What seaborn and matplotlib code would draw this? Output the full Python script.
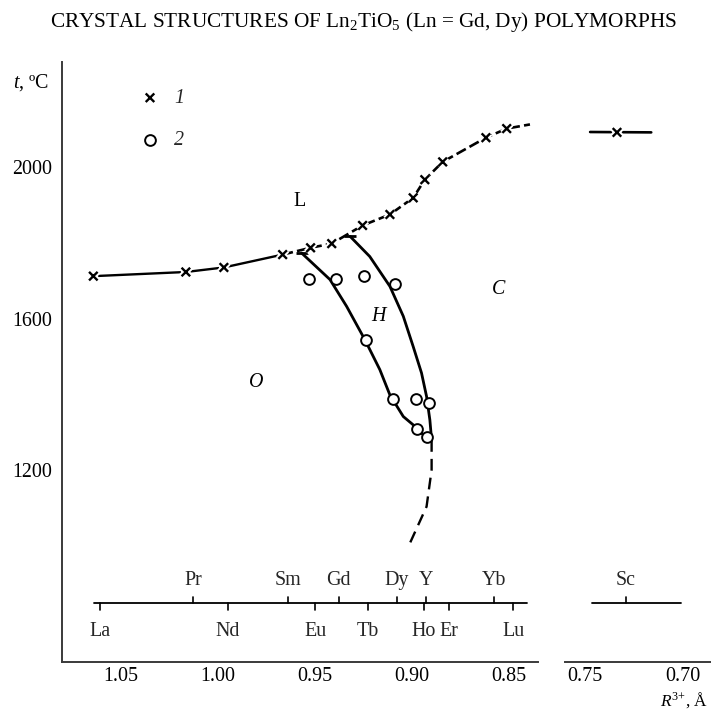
import matplotlib
matplotlib.use("Agg")
import matplotlib.pyplot as plt
import matplotlib.patheffects as pe
import seaborn as sns

# Cation radii (Å) on the element scale: labels above / below the scale line
elements_upper = ["Pr", "Sm", "Gd", "Dy", "Y", "Yb"]
radii_upper = [1.013, 0.964, 0.938, 0.908, 0.893, 0.858]
elements_lower = ["La", "Nd", "Eu", "Tb", "Ho", "Er", "Lu"]
radii_lower = [1.061, 0.995, 0.950, 0.923, 0.894, 0.881, 0.848]
elements_right = ["Sc"]
radii_right = [0.729]

# Series 1: melting points (×)
melt_r = [1.0644, 1.0167, 0.9971, 0.9668, 0.9524, 0.9415, 0.9256,
          0.9115, 0.8995, 0.8935, 0.8843, 0.8620, 0.8513]
melt_t = [1712, 1723, 1735, 1769, 1787, 1798, 1846,
          1875, 1919, 1967, 2014, 2078, 2102]
# liquidus curve through the melting points (solid up to Sm, dashed beyond)
liq_solid_r = [1.0644, 1.0167, 0.9971, 0.9668]
liq_solid_t = [1712, 1723, 1735, 1769]
liq_dash_r = [0.9668, 0.9524, 0.9415, 0.9256, 0.9115, 0.8995, 0.8935,
              0.8843, 0.8620, 0.8513, 0.8393]
liq_dash_t = [1769, 1787, 1798, 1846, 1875, 1919, 1967,
              2014, 2078, 2102, 2113]
# Sc compound
sc_r = [0.7336]
sc_t = [2092]
sc_line_r = [0.7474, 0.7160]
sc_line_t = [2093, 2092]

# Series 2: polymorphic transition points (○)
trans_r = [0.9531, 0.9393, 0.9247, 0.9089, 0.9239, 0.9101, 0.8981,
           0.8915, 0.8977, 0.8926]
trans_t = [1705, 1705, 1712, 1692, 1544, 1388, 1387, 1377, 1308, 1288]

# Phase boundaries O/H and H/C, with the dashed low-temperature extension
oh_r = [0.957, 0.9424, 0.9338, 0.9244, 0.9167, 0.9115, 0.9046, 0.8995, 0.8926]
oh_t = [1773, 1703, 1632, 1544, 1465, 1398, 1341, 1319, 1284]
hc_r = [0.932, 0.9219, 0.9115, 0.9046, 0.8995, 0.8952, 0.8926, 0.8909, 0.8900]
hc_t = [1817, 1764, 1685, 1606, 1526, 1456, 1394, 1332, 1279]
ext_r = [0.8900, 0.8900, 0.8926, 0.9012]
ext_t = [1279, 1200, 1103, 1006]

# Phase field labels
field_labels = ["L", "H", "C", "O"]
field_r = [0.9579, 0.9175, 0.8557, 0.9806]
field_t = [1910, 1606, 1676, 1430]
field_italic = [False, True, True, True]

y_ticks = [1200, 1600, 2000]
x_ticks_left = [1.05, 1.00, 0.95, 0.90, 0.85]
x_ticks_right = [0.75, 0.70]

sns.set_theme(style="white")
plt.rcParams["font.family"] = ["Liberation Serif", "DejaVu Serif"]
plt.rcParams["mathtext.fontset"] = "custom"
plt.rcParams["mathtext.rm"] = "Liberation Serif"
plt.rcParams["mathtext.it"] = "Liberation Serif:italic"

INK = "black"
SPINE = "#3a3a3a"
FS = 14.4

W, H = 711, 710
fig = plt.figure(figsize=(W / 100, H / 100), dpi=100)
bottom = (H - 661.7) / H
height = 599.7 / H
ax1 = fig.add_axes([61.7 / W, bottom, 476.6 / W, height])
ax2 = fig.add_axes([565 / W, bottom, 146 / W, height], sharey=ax1)

ax1.set_xlim(1.0807, 0.835)
ax2.set_xlim(0.7603, 0.6853)
ax1.set_ylim(693, 2278)

line_kw = dict(sort=False, estimator=None, color=INK, legend=False)

# Liquidus
sns.lineplot(x=liq_solid_r, y=liq_solid_t, ax=ax1, linewidth=1.7, **line_kw)
sns.lineplot(x=liq_dash_r, y=liq_dash_t, ax=ax1, linewidth=1.9,
             linestyle=(0, (4, 1.6)), **line_kw)
sns.lineplot(x=sc_line_r, y=sc_line_t, ax=ax2, linewidth=1.9, **line_kw)

# Phase boundaries with a cap where they meet the liquidus
for br, bt in ((oh_r, oh_t), (hc_r, hc_t)):
    sns.lineplot(x=br, y=bt, ax=ax1, linewidth=2.0, marker="_", markevery=[0],
                 markersize=9, markeredgewidth=2.0, markeredgecolor=INK,
                 **line_kw)
sns.lineplot(x=ext_r, y=ext_t, ax=ax1, linewidth=1.7,
             linestyle=(0, (5, 3)), **line_kw)

# Data points
halo = [pe.withStroke(linewidth=4.5, foreground="white")]
sns.scatterplot(x=melt_r, y=melt_t, ax=ax1, marker="x", s=38, linewidth=1.7,
                color=INK, zorder=5, path_effects=halo, label="1")
sns.scatterplot(x=sc_r, y=sc_t, ax=ax2, marker="x", s=38, linewidth=1.7,
                color=INK, zorder=5, path_effects=halo)
sns.scatterplot(x=trans_r, y=trans_t, ax=ax1, marker="o", s=60, linewidth=1.4,
                facecolor="white", edgecolor=INK, zorder=6, label="2")

leg = ax1.legend(loc="upper left", bbox_to_anchor=(0.1643, 0.955),
                 frameon=False, handlelength=1.0, handletextpad=0.7,
                 labelspacing=1.15, borderpad=0, borderaxespad=0,
                 prop={"family": "Liberation Serif", "style": "italic",
                       "size": FS})

# Phase field names
for lab, r, t, it in zip(field_labels, field_r, field_t, field_italic):
    ax1.text(r, t, lab, fontsize=FS, style="italic" if it else "normal",
             ha="center", va="center", color=INK)

# Element scale drawn inside the plot
scale_y, tick_h = 0.0974, 0.011
up_y, low_y = 0.1362, 0.050
for ax, (x0, x1) in ((ax1, (1.064, 0.8407)), (ax2, (0.7466, 0.7007))):
    tr = ax.get_xaxis_transform()
    ax.plot([x0, x1], [scale_y, scale_y], transform=tr, color=INK, lw=1.3)

tr1 = ax1.get_xaxis_transform()
for name, r in zip(elements_upper, radii_upper):
    ax1.plot([r, r], [scale_y, scale_y + tick_h], transform=tr1, color=INK, lw=1.2)
    ax1.text(r, up_y, name, transform=tr1, ha="center", va="center", fontsize=FS)
for name, r in zip(elements_lower, radii_lower):
    ax1.plot([r, r], [scale_y, scale_y - tick_h], transform=tr1, color=INK, lw=1.2)
    ax1.text(r, low_y, name, transform=tr1, ha="center", va="center", fontsize=FS)
tr2 = ax2.get_xaxis_transform()
for name, r in zip(elements_right, radii_right):
    ax2.plot([r, r], [scale_y, scale_y + tick_h], transform=tr2, color=INK, lw=1.2)
    ax2.text(r, up_y, name, transform=tr2, ha="center", va="center", fontsize=FS)

# Axes styling: broken radius axis
for ax in (ax1, ax2):
    for side in ("top", "right"):
        ax.spines[side].set_visible(False)
    ax.spines["bottom"].set_color(SPINE)
    ax.spines["bottom"].set_linewidth(1.4)
    ax.tick_params(axis="x", direction="in", length=6, width=1.2,
                   colors=SPINE, labelcolor=INK, labelsize=FS, pad=4)
    ax.set_xlabel("")
    ax.set_ylabel("")
ax1.spines["left"].set_color(SPINE)
ax1.spines["left"].set_linewidth(1.4)
ax2.spines["left"].set_visible(False)
ax1.tick_params(axis="y", direction="in", length=6, width=1.2,
                colors=SPINE, labelcolor=INK, labelsize=FS, pad=7)
ax2.tick_params(axis="y", left=False, labelleft=False)

ax1.set_yticks(y_ticks)
ax1.set_yticklabels([str(v) for v in y_ticks])
ax1.set_xticks(x_ticks_left)
ax1.set_xticklabels([f"{v:.2f}" for v in x_ticks_left])
ax2.set_xticks(x_ticks_right)
ax2.set_xticklabels([f"{v:.2f}" for v in x_ticks_right])

# Title and axis captions
fig.text(363 / W, 1 - 22 / H,
         "CRYSTAL STRUCTURES OF Ln$_2$TiO$_5$ (Ln = Gd, Dy) POLYMORPHS",
         ha="center", va="center", fontsize=15.3, color=INK)
fig.text(13 / W, 1 - 83 / H, "$t$, ºC", ha="left", va="center",
         fontsize=FS, color=INK)
fig.text(708 / W, 1 - 706 / H, "$R^{{3}{+}}$, Å", ha="right", va="baseline",
         fontsize=12.5, color=INK)

fig.savefig("out.png", dpi=100)
